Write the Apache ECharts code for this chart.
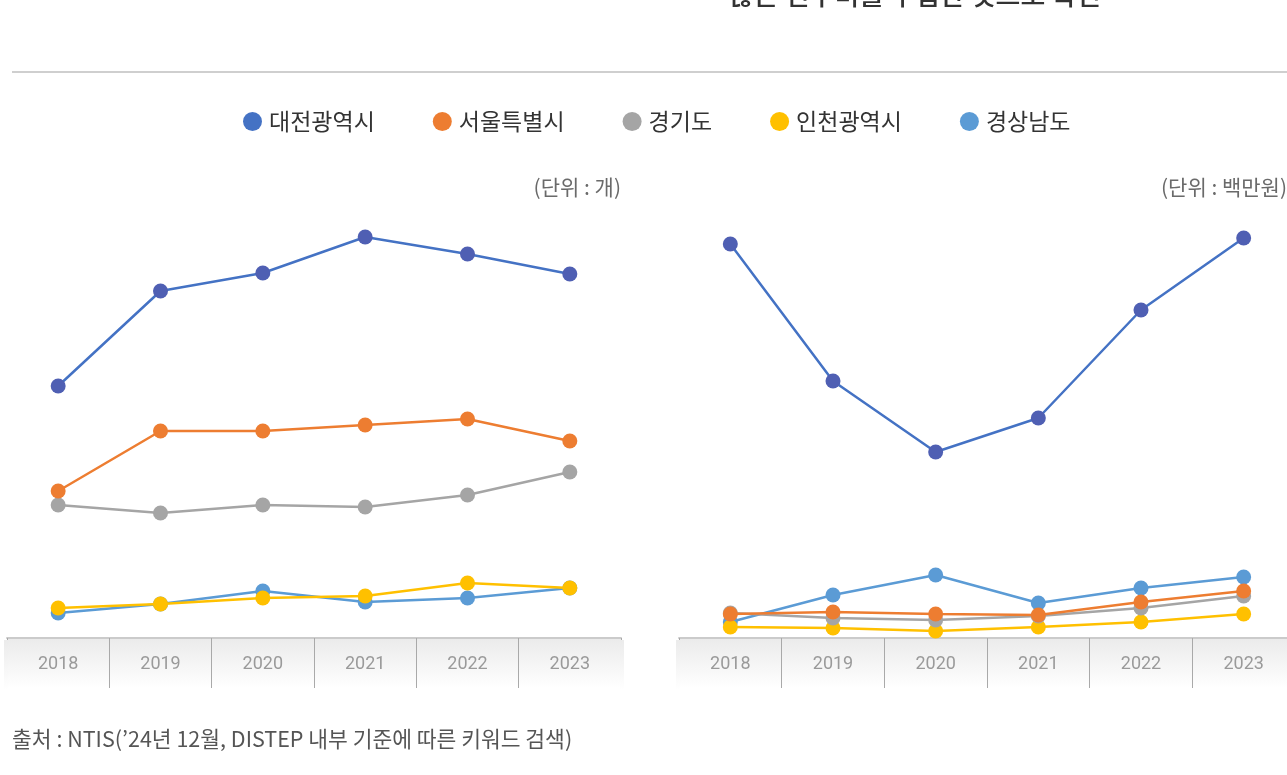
<!DOCTYPE html>
<html><head><meta charset="utf-8">
<script src="https://cdn.jsdelivr.net/npm/echarts@6/dist/echarts.min.js"></script>
<style>html,body{margin:0;padding:0;background:#fff}#c{width:1287px;height:775px}</style>
</head><body><div id="c"></div>
<script>
const years = ['2018','2019','2020','2021','2022','2023'];
const seriesNames = ['대전광역시','서울특별시','경기도','인천광역시','경상남도'];
// Left panel: 과제 수 (단위: 개) — relative values
const countDaejeon = [252, 347, 365, 401, 384, 364];
const countSeoul   = [147, 207, 207, 213, 219, 197];
const countGyeonggi= [133, 125, 133, 131, 143, 166];
const countIncheon = [30, 34, 40, 42, 55, 50];
const countGyeongnam=[25, 34, 47, 36, 40, 50];
// Right panel: 연구비 (단위: 백만원)
const fundDaejeon  = [394, 257, 186, 220, 328, 400];
const fundSeoul    = [24, 26, 24, 23, 36, 47];
const fundGyeonggi = [25, 20, 18, 22, 30, 42];
const fundIncheon  = [11, 10, 7, 11, 16, 24];
const fundGyeongnam= [16, 43, 63, 35, 50, 61];

const lineColors = ['#4472C4','#ED7D31','#A5A5A5','#FFC000','#5B9BD5'];
const markerColors = ['#4F5FB3','#ED7D31','#A5A5A5','#FFC000','#5B9BD5'];
const FONT = '"Noto Sans CJK KR", "Noto Sans", sans-serif';

const leftData = [countDaejeon, countSeoul, countGyeonggi, countIncheon, countGyeongnam];
const rightData = [fundDaejeon, fundSeoul, fundGyeonggi, fundIncheon, fundGyeongnam];

function mkSeries(dataArr, axisIdx) {
  return dataArr.map((d, i) => ({
    name: seriesNames[i], type: 'line', xAxisIndex: axisIdx, yAxisIndex: axisIdx,
    data: d, symbol: 'circle', symbolSize: 15, z: 10 - i,
    lineStyle: { color: lineColors[i], width: 2.5 },
    itemStyle: { color: markerColors[i] },
    emphasis: { disabled: true }, animation: false
  }));
}

function xAx(gi) {
  return {
    type: 'category', gridIndex: gi, data: years, boundaryGap: true,
    axisLine: { show: true, lineStyle: { color: '#CBCBCB', width: 2 } },
    axisTick: { show: true, length: 50, inside: false, lineStyle: { color: '#A9A9A9', width: 1 } },
    axisLabel: { color: '#9A9A9A', fontSize: 18, fontFamily: 'Roboto, "Noto Sans", sans-serif', margin: 17 },
    splitLine: { show: false }
  };
}
function yAx(gi) {
  return { type: 'value', gridIndex: gi, min: 0, max: 438, show: false, splitLine: { show: false } };
}

const chart = echarts.init(document.getElementById('c'), null, { renderer: 'canvas' });
const bandGrad = () => new echarts.graphic.LinearGradient(0, 0, 0, 1, [
  { offset: 0, color: '#EBEBEB' }, { offset: 1, color: '#FFFFFF' }
]);
chart.setOption({
  backgroundColor: '#fff',
  animation: false,
  legend: {
    data: seriesNames.map((n, i) => ({ name: n, itemStyle: { color: lineColors[i] } })),
    top: 105, left: 238, icon: 'circle', itemWidth: 19, itemHeight: 19, itemGap: 58,
    textStyle: { fontSize: 23, color: '#333', fontFamily: FONT, padding: [0, 0, 0, 2] },
    selectedMode: false
  },
  grid: [
    { left: 7, width: 614, top: 200, height: 438, outerBoundsMode: 'none' },
    { left: 679, width: 616, top: 200, height: 438, outerBoundsMode: 'none' }
  ],
  xAxis: [xAx(0), xAx(1)],
  yAxis: [yAx(0), yAx(1)],
  series: [...mkSeries(leftData, 0), ...mkSeries(rightData, 1)],
  graphic: [
    { type: 'rect', left: 7, top: 639, shape: { width: 614, height: 49 }, style: { fill: bandGrad() }, z: -1, silent: true },
    { type: 'rect', left: 679, top: 639, shape: { width: 616, height: 49 }, style: { fill: bandGrad() }, z: -1, silent: true },
    // hide outer edge ticks of each band
    { type: 'rect', left: 4, top: 640, shape: { width: 4, height: 50 }, style: { fill: bandGrad() }, z: 100, silent: true },
    { type: 'rect', left: 620, top: 640, shape: { width: 4, height: 50 }, style: { fill: bandGrad() }, z: 100, silent: true },
    { type: 'rect', left: 676, top: 640, shape: { width: 4, height: 50 }, style: { fill: bandGrad() }, z: 100, silent: true },
    { type: 'rect', left: 12, top: 71, shape: { width: 1280, height: 2 }, style: { fill: '#CFCFCF' }, silent: true },
    { type: 'text', left: 729, top: -19, style: { text: '많은 연구비를 수립한 것으로 확인', fill: '#333', font: '500 27px ' + FONT } },
    { type: 'text', right: 666, top: 177, style: { text: '(단위 : 개)', fill: '#6A6A6A', font: '21px ' + FONT, textAlign: 'right' } },
    { type: 'text', right: 0, top: 177, style: { text: '(단위 : 백만원)', fill: '#6A6A6A', font: '21px ' + FONT, textAlign: 'right' } },
    { type: 'text', left: 12, top: 728, style: { text: '출처 : NTIS(’24년 12월, DISTEP 내부 기준에 따른 키워드 검색)', fill: '#555', font: '21.5px ' + FONT } }
  ]
});
</script></body></html>
